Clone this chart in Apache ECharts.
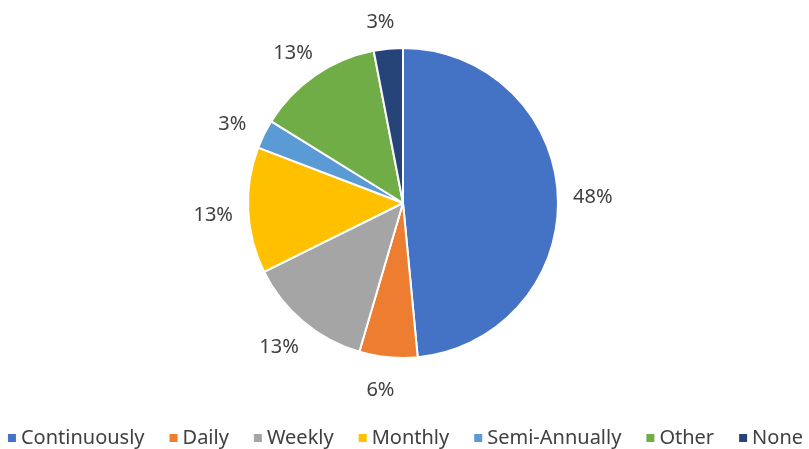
<!DOCTYPE html>
<html>
<head>
<meta charset="utf-8">
<script src="https://cdn.jsdelivr.net/npm/echarts@6/dist/echarts.min.js"></script>
<style>
  html, body { margin: 0; padding: 0; background: #fff; }
  #chart { width: 809px; height: 449px; }
</style>
</head>
<body>
<div id="chart"></div>
<script>
const categories = ["Continuously", "Daily", "Weekly", "Monthly", "Semi-Annually", "Other", "None"];
const shares = [48, 6, 13, 13, 3, 13, 3];
const colors = ["#4472C4", "#ED7D31", "#A5A5A5", "#FFC000", "#5B9BD5", "#70AD47", "#264478"];

const font = "'Noto Sans', sans-serif";

const chart = echarts.init(document.getElementById("chart"));
chart.setOption({
  animation: false,
  color: colors,
  legend: {
    bottom: -4,
    left: "center",
    itemWidth: 10,
    itemHeight: 10,
    itemGap: 23,
    icon: "rect",
    textStyle: { fontFamily: font, fontSize: 20, color: "#404040", padding: [0, 0, 0, -1] },
    data: categories
  },
  series: [{
    type: "pie",
    center: [403, 203],
    radius: 155,
    startAngle: 90,
    clockwise: true,
    itemStyle: { borderColor: "#fff", borderWidth: 2 },
    label: {
      show: true,
      position: "outside",
      fontFamily: font,
      fontSize: 20,
      color: "#404040",
      formatter: (p) => p.value + "%"
    },
    labelLine: { show: false, length: 30, length2: 0 },
    // Excel-style: labels centred on a ring just outside the pie
    labelLayout: () => ({ align: "center", verticalAlign: "middle", dy: 3 }),
    data: categories.map((name, i) => ({ name: name, value: shares[i] }))
  }]
});
</script>
</body>
</html>
